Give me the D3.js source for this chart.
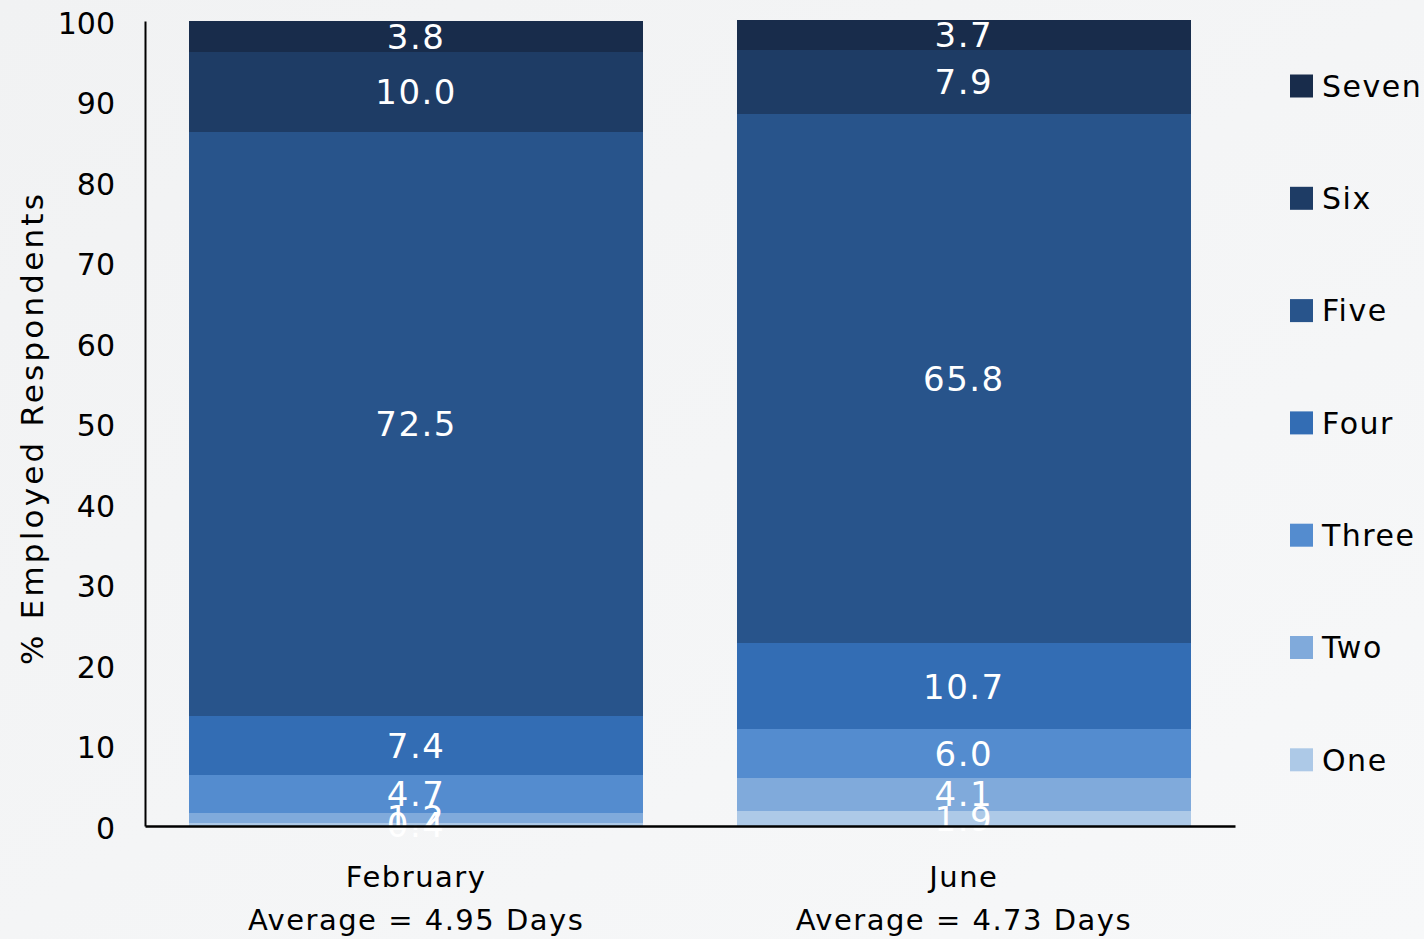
<!DOCTYPE html>
<html><head><meta charset="utf-8">
<script src="https://cdn.jsdelivr.net/npm/d3@7"></script>
<style>
html,body{margin:0;padding:0;background:#f3f4f5;}
svg{display:block;font-family:"DejaVu Sans",sans-serif;}
</style></head>
<body><svg id="c" width="1424" height="939"></svg>
<script>
const months = ["February", "June"];
const averages = ["Average = 4.95 Days", "Average = 4.73 Days"];
const seriesNames = ["One", "Two", "Three", "Four", "Five", "Six", "Seven"];
const februaryValues = [0.4, 1.2, 4.7, 7.4, 72.5, 10.0, 3.8];
const juneValues = [1.9, 4.1, 6.0, 10.7, 65.8, 7.9, 3.7];
const seriesColors = ["#adc9e7", "#80aadb", "#548ccf", "#336db4", "#28548b", "#1e3c65", "#182c4b"];
const yTicks = [0, 10, 20, 30, 40, 50, 60, 70, 80, 90, 100];

const svg = d3.select("#c");
const defs = svg.append("defs");
const g0 = defs.append("linearGradient").attr("id","bg").attr("x1",0).attr("y1",0).attr("x2",1).attr("y2",1);
g0.append("stop").attr("offset",0).attr("stop-color","#f1f2f3");
g0.append("stop").attr("offset",1).attr("stop-color","#f7f8f9");
svg.append("rect").attr("width",1424).attr("height",939).attr("fill","url(#bg)");

const table = months.map((m,i)=>{
  const vals = i===0 ? februaryValues : juneValues;
  const o = {month:m};
  seriesNames.forEach((s,j)=>o[s]=vals[j]);
  return o;
});
const stacked = d3.stack().keys(seriesNames)(table);

const x = d3.scaleBand().domain(months).range([145,1235]).paddingInner(0.17).paddingOuter(0.08);
const y = d3.scaleLinear().domain([0,100]).range([826,21]);

const layers = svg.append("g").attr("shape-rendering","crispEdges").selectAll("g").data(stacked).join("g")
  .attr("fill",(d,i)=>seriesColors[i]);
layers.selectAll("rect").data(d=>d).join("rect")
  .attr("x",d=>x(d.data.month))
  .attr("width",x.bandwidth())
  .attr("y",d=>y(d[1]))
  .attr("height",d=>y(d[0])-y(d[1]));

const lab = svg.append("g");
stacked.forEach((layer,i)=>{
  layer.forEach(d=>{
    const v = d[1]-d[0];
    lab.append("text")
      .attr("x",x(d.data.month)+x.bandwidth()/2)
      .attr("y",y((d[0]+d[1])/2))
      .attr("dy","0.36em")
      .attr("text-anchor","middle")
      .attr("fill","#fff")
      .attr("font-size",34)
      .attr("letter-spacing",1.5)
      .text(v.toFixed(1));
  });
});

const yAxis = d3.axisLeft(y).tickValues(yTicks).tickSize(0).tickPadding(30);
const ya = svg.append("g").attr("transform","translate(145,0)").call(yAxis);
ya.select(".domain").attr("stroke","#000").attr("stroke-width",2);
ya.selectAll("text").attr("font-size",30).attr("fill","#000").attr("font-family","DejaVu Sans").attr("dy","0.4em");

const xa = svg.append("g").attr("transform","translate(0,826)")
  .call(d3.axisBottom(x).tickSize(0).tickFormat(()=>""));
xa.select(".domain").attr("stroke","#000").attr("stroke-width",2.5);
months.forEach((m,i)=>{
  const cx = x(m)+x.bandwidth()/2;
  svg.append("text").attr("x",cx).attr("y",887).attr("text-anchor","middle")
    .attr("font-size",29).attr("letter-spacing",1.5).attr("fill","#000").text(m);
  svg.append("text").attr("x",cx).attr("y",930).attr("text-anchor","middle")
    .attr("font-size",29).attr("letter-spacing",1.5).attr("fill","#000").text(averages[i]);
});

svg.append("text").attr("transform","translate(43,428) rotate(-90)")
  .attr("text-anchor","middle").attr("font-size",31).attr("letter-spacing",3.2)
  .attr("fill","#000").text("% Employed Respondents");

const legendOrder = seriesNames.slice().reverse();
const leg = svg.append("g");
legendOrder.forEach((s,i)=>{
  const yy = 86 + i*112.3;
  leg.append("rect").attr("x",1290).attr("y",yy-11.5).attr("width",23).attr("height",23)
    .attr("fill",seriesColors[seriesNames.indexOf(s)]);
  leg.append("text").attr("x",1322).attr("y",yy).attr("dy","0.36em")
    .attr("font-size",30).attr("letter-spacing",1.5).attr("fill","#000").text(s);
});
</script></body></html>
